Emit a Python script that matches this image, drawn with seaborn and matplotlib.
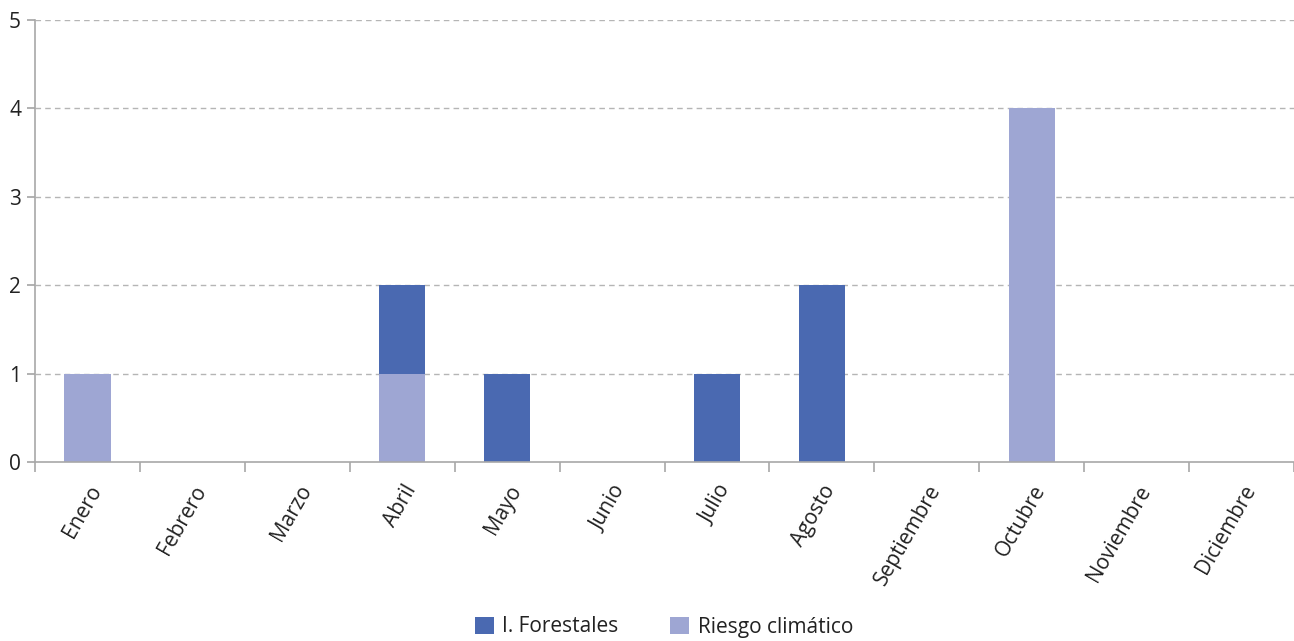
import matplotlib
matplotlib.use("Agg")
import matplotlib.pyplot as plt
from matplotlib.patches import Patch
from matplotlib.ticker import FixedLocator
import seaborn as sns
import pandas as pd
import numpy as np

meses = ["Enero", "Febrero", "Marzo", "Abril", "Mayo", "Junio", "Julio",
         "Agosto", "Septiembre", "Octubre", "Noviembre", "Diciembre"]
forestales = [0, 0, 0, 1, 1, 0, 1, 2, 0, 0, 0, 0]
riesgo = [1, 0, 0, 1, 0, 0, 0, 0, 0, 4, 0, 0]
series_names = ["I. Forestales", "Riesgo climático"]
colors = ["#4a69b1", "#9ea6d3"]

sns.set_theme(style="white")
plt.rcParams["font.family"] = ["Open Sans", "DejaVu Sans"]

df = pd.DataFrame({"mes": meses, "forestales": forestales, "riesgo": riesgo})
df["total"] = df["forestales"] + df["riesgo"]

fig = plt.figure(figsize=(12.94, 6.41), dpi=100)
ax = fig.add_axes([35/1294, 1-462/641, 1-35/1294, (462-20)/641])

sns.barplot(data=df, x="mes", y="total", color=colors[0], width=0.44,
            saturation=1, ax=ax, linewidth=0)
sns.barplot(data=df, x="mes", y="riesgo", color=colors[1], width=0.44,
            saturation=1, ax=ax, linewidth=0)

ax.set_ylim(0, 5)
ax.set_xlim(-0.5, 11.5)
ax.set_yticks([0, 1, 2, 3, 4, 5])
ax.set_xlabel("")
ax.set_ylabel("")
for v in [1, 2, 3, 4, 5]:
    ax.axhline(v, color="#b5b5b5", linestyle=(0, (4, 3)), linewidth=1, zorder=0)

for s in ["top", "right"]:
    ax.spines[s].set_visible(False)
for s in ["left", "bottom"]:
    ax.spines[s].set_color("#a8a8a8")
    ax.spines[s].set_linewidth(1.2)

ax.tick_params(axis="y", which="major", left=True, length=6, color="#a8a8a8",
               labelsize=15, labelcolor="#222222", pad=4)
ax.set_xticks(range(12))
ax.set_xticklabels(meses, rotation=60, ha="right", rotation_mode="anchor")
ax.tick_params(axis="x", which="major", bottom=False, length=0,
               labelsize=15, labelcolor="#222222", pad=14)
ax.xaxis.set_minor_locator(FixedLocator(np.arange(-0.5, 12, 1)))
ax.tick_params(axis="x", which="minor", bottom=True, length=7, color="#a8a8a8", width=1.2)

handles = [Patch(facecolor=c, edgecolor="none") for c in colors]
fig.legend(handles, series_names, loc="center", bbox_to_anchor=(664/1294, 1-627/641),
           ncol=2, frameon=False, fontsize=15, handlelength=0.9, handleheight=0.9,
           handletextpad=0.4, columnspacing=2.5, labelcolor="#222222")

fig.savefig("out.png", dpi=100)
